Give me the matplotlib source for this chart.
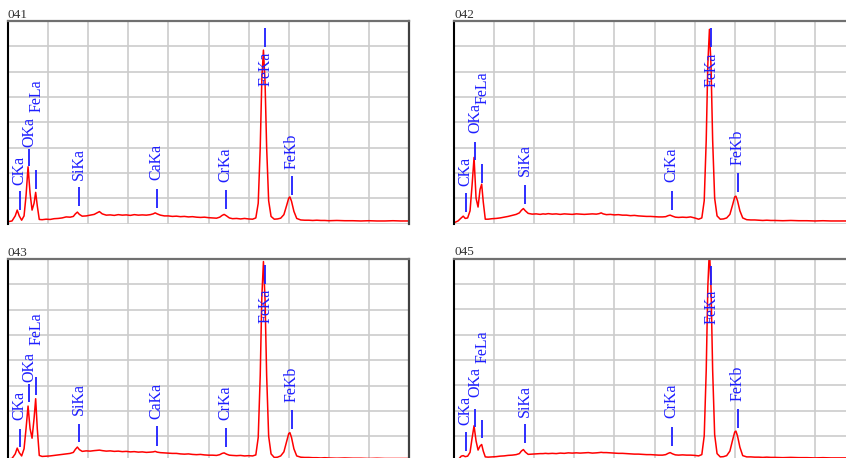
import numpy as np
import matplotlib
matplotlib.use("Agg")
from matplotlib import pyplot as plt

# EDS spectra of four spots, energy in keV, intensity in grid divisions (0-8)

panel_names = ['041', '042', '043', '045']

energy = [
    0.0, 0.1, 0.18, 0.23, 0.28, 0.34, 0.4, 0.45, 0.5, 0.55, 0.6, 0.65, 0.69, 0.73, 0.78,
    0.85, 0.95, 1.05, 1.15, 1.25, 1.35, 1.45, 1.55,
    1.63, 1.68, 1.73, 1.78, 1.85, 1.95, 2.05, 2.15, 2.22, 2.28, 2.35, 2.45,
    2.55, 2.65, 2.75, 2.85, 2.95, 3.05, 3.15, 3.25, 3.35, 3.45, 3.55,
    3.62, 3.67, 3.72, 3.8, 3.9, 4.0, 4.1, 4.2, 4.3, 4.4, 4.5, 4.6, 4.7, 4.8, 4.9, 5.0, 5.1, 5.2,
    5.28, 5.34, 5.39, 5.45, 5.52, 5.6, 5.7, 5.8, 5.9, 6.0, 6.1,
    6.18, 6.24, 6.29, 6.33, 6.37, 6.41, 6.45, 6.5, 6.56, 6.64, 6.72, 6.8, 6.88,
    6.95, 7.0, 7.03, 7.07, 7.13, 7.2, 7.3, 7.4,
    7.5, 7.6, 7.7, 7.8, 7.9, 8.0, 8.2, 8.4, 8.6, 8.8, 9.0, 9.2, 9.4, 9.6, 9.8, 10.0,
]

counts_041 = [
    0.07, 0.1, 0.3, 0.53, 0.3, 0.13, 0.3, 1.1, 2.24, 1.2, 0.53, 0.8, 1.23, 0.7, 0.16,
    0.15, 0.17, 0.16, 0.19, 0.2, 0.22, 0.26, 0.25,
    0.28, 0.38, 0.45, 0.36, 0.29, 0.3, 0.33, 0.36, 0.42, 0.47, 0.38, 0.33,
    0.34, 0.32, 0.35, 0.33, 0.34, 0.32, 0.35, 0.33, 0.34, 0.33, 0.35,
    0.38, 0.42, 0.38, 0.33, 0.3, 0.3, 0.28, 0.29, 0.27, 0.28, 0.26, 0.27, 0.25, 0.24, 0.25, 0.23, 0.22, 0.21,
    0.25, 0.32, 0.36, 0.3, 0.22, 0.19, 0.2, 0.18, 0.2, 0.18, 0.17,
    0.22, 0.8, 3.0, 5.7, 6.85, 5.6, 3.0, 0.9, 0.28, 0.17, 0.18, 0.21, 0.35,
    0.72, 1.0, 1.05, 0.88, 0.48, 0.2, 0.14, 0.13,
    0.13, 0.12, 0.13, 0.12, 0.12, 0.11, 0.12, 0.11, 0.11, 0.1, 0.11, 0.1, 0.1, 0.11, 0.1, 0.1,
]

counts_042 = [
    0.03, 0.1, 0.22, 0.29, 0.2, 0.22, 0.5, 1.5, 2.61, 1.0, 0.65, 1.35, 1.55, 0.85, 0.17,
    0.17, 0.19, 0.2, 0.22, 0.25, 0.28, 0.32, 0.36,
    0.42, 0.52, 0.59, 0.5, 0.4, 0.37, 0.38, 0.36, 0.38, 0.37, 0.39, 0.37,
    0.38, 0.36, 0.38, 0.37, 0.36, 0.38, 0.37, 0.36, 0.37, 0.38, 0.37,
    0.39, 0.42, 0.38, 0.35, 0.36, 0.34, 0.35, 0.33, 0.33, 0.31, 0.32, 0.3, 0.29, 0.28, 0.28, 0.27, 0.26, 0.26,
    0.27, 0.31, 0.33, 0.29, 0.25, 0.24, 0.25, 0.24, 0.26, 0.22, 0.17,
    0.22, 0.9, 3.3, 6.3, 7.67, 6.2, 3.3, 1.0, 0.3, 0.17, 0.18, 0.22, 0.36,
    0.75, 1.05, 1.08, 0.9, 0.5, 0.22, 0.15, 0.14,
    0.14, 0.13, 0.12, 0.13, 0.12, 0.12, 0.11, 0.12, 0.11, 0.11, 0.1, 0.11, 0.1, 0.1, 0.1, 0.1,
]

counts_043 = [
    0.1, 0.12, 0.3, 0.53, 0.35, 0.22, 0.5, 1.3, 2.19, 1.3, 0.92, 1.7, 2.48, 1.3, 0.24,
    0.2, 0.21, 0.22, 0.24, 0.26, 0.28, 0.3, 0.32,
    0.36, 0.48, 0.57, 0.47, 0.4, 0.42, 0.41, 0.43, 0.44, 0.45, 0.43, 0.41,
    0.42, 0.4, 0.41, 0.39, 0.4, 0.38, 0.39, 0.37, 0.38, 0.36, 0.37,
    0.38, 0.4, 0.37, 0.35, 0.34, 0.33, 0.32, 0.32, 0.3, 0.29, 0.3, 0.28, 0.27, 0.28, 0.26, 0.25, 0.25, 0.24,
    0.27, 0.32, 0.34, 0.29, 0.25, 0.24, 0.23, 0.24, 0.22, 0.23, 0.22,
    0.26, 0.95, 3.4, 6.5, 7.9, 6.4, 3.4, 1.0, 0.3, 0.16, 0.17, 0.22, 0.38,
    0.8, 1.1, 1.14, 0.95, 0.5, 0.22, 0.17, 0.16,
    0.16, 0.15, 0.15, 0.14, 0.15, 0.14, 0.13, 0.14, 0.13, 0.13, 0.12, 0.13, 0.12, 0.12, 0.12, 0.12,
]

counts_045 = [
    0.0, 0.05, 0.2, 0.22, 0.18, 0.2, 0.35, 0.9, 1.4, 0.8, 0.44, 0.6, 0.66, 0.4, 0.17,
    0.16, 0.17, 0.18, 0.2, 0.21, 0.23, 0.24, 0.26,
    0.3, 0.4, 0.46, 0.36, 0.27, 0.28, 0.29, 0.3, 0.3, 0.31, 0.3, 0.31,
    0.3, 0.32, 0.31, 0.33, 0.32, 0.33, 0.32, 0.33, 0.34, 0.32, 0.33,
    0.34, 0.35, 0.34, 0.34, 0.33, 0.32, 0.31, 0.31, 0.3, 0.29, 0.28, 0.28, 0.27, 0.26, 0.26, 0.25, 0.24, 0.24,
    0.26, 0.31, 0.34, 0.29, 0.25, 0.24, 0.25, 0.24, 0.24, 0.23, 0.21,
    0.26, 1.0, 3.6, 6.9, 8.4, 6.8, 3.6, 1.05, 0.3, 0.17, 0.18, 0.22, 0.4,
    0.85, 1.15, 1.19, 1.0, 0.55, 0.22, 0.17, 0.17,
    0.16, 0.16, 0.15, 0.16, 0.15, 0.15, 0.14, 0.15, 0.14, 0.14, 0.13, 0.14, 0.13, 0.13, 0.13, 0.13,
]

# element lines, marker positions (keV)
line_names = ['CKa', 'OKa', 'FeLa', 'SiKa', 'CaKa', 'CrKa', 'FeKa', 'FeKb']
line_energy = [0.29, 0.53, 0.71, 1.76, 3.71, 5.43, 6.42, 7.08]

nan = np.nan
marker_lo_041 = [0.55, 2.28, 1.38, 0.69, 0.63, 0.59, 6.98, 1.12]
marker_hi_041 = [1.29, 2.96, 2.11, 1.45, 1.38, 1.34, 7.71, 1.87]
label_y_041 = [1.52, 3.03, 4.41, 1.71, 1.71, 1.65, 5.43, 2.17]

marker_lo_042 = [0.46, 2.5, 1.61, 0.79, nan, 0.53, 6.98, 1.25]
marker_hi_042 = [1.19, 3.23, 2.37, 1.52, nan, 1.28, 7.71, 2.0]
label_y_042 = [1.48, 3.56, 4.74, 1.87, nan, 1.62, 5.4, 2.31]

marker_lo_043 = [0.57, 2.35, 2.62, 0.77, 0.63, 0.59, 7.0, 1.29]
marker_hi_043 = [1.29, 3.05, 3.34, 1.49, 1.39, 1.32, 7.77, 2.02]
label_y_043 = [1.62, 3.14, 4.6, 1.82, 1.69, 1.65, 5.46, 2.35]

marker_lo_045 = [0.4, 1.36, 0.9, 0.7, nan, 0.61, 6.97, 1.32]
marker_hi_045 = [1.14, 2.08, 1.62, 1.45, nan, 1.36, 7.73, 2.06]
label_y_045 = [1.43, 2.55, 3.87, 1.76, nan, 1.69, 5.42, 2.39]

spectra = [counts_041, counts_042, counts_043, counts_045]
markers_lo = [marker_lo_041, marker_lo_042, marker_lo_043, marker_lo_045]
markers_hi = [marker_hi_041, marker_hi_042, marker_hi_043, marker_hi_045]
labels_y = [label_y_041, label_y_042, label_y_043, label_y_045]

# panel boxes in pixels: left, top (right column is cut by the image edge)
W, H = 846, 458
boxes = [(8, 21), (454, 21), (8, 259), (454, 258.7)]
box_w, box_h = 401, 202.5

fig = plt.figure(figsize=(W / 100, H / 100), dpi=100)

for name, (left, top), counts, lo, hi, ly in zip(panel_names, boxes, spectra, markers_lo, markers_hi, labels_y):
    ax = fig.add_axes([left / W, (H - top - box_h) / H, box_w / W, box_h / H])
    ax.set_xlim(0, 10)
    ax.set_ylim(0, 8)
    ax.set_xticks(range(0, 11))
    ax.set_yticks(range(0, 9))
    ax.grid(True, color='#cccccc', lw=1.2)
    ax.set_axisbelow(True)
    ax.tick_params(length=0, labelbottom=False, labelleft=False)
    ax.spines['left'].set_color('black')
    ax.spines['left'].set_linewidth(1.5)
    ax.spines['top'].set_color('#707070')
    ax.spines['top'].set_linewidth(1.6)
    ax.spines['right'].set_color('#404040')
    ax.spines['right'].set_linewidth(1.6)
    ax.spines['bottom'].set_visible(False)

    ax.plot(energy, counts, color='#ff0000', lw=1.1)

    for lname, e, y0, y1, yt in zip(line_names, line_energy, lo, hi, ly):
        if np.isnan(y0):
            continue
        ax.vlines(e, y0, y1, color='#1e1eff', lw=1.3)
        ax.text(e, yt, lname, rotation=90, ha='center', va='bottom',
                color='#1e1eff', fontsize=11.5, family='Liberation Serif')

    ax.set_title(name, loc='left', pad=2.5, fontsize=9.5, family='Liberation Serif',
                 color='#333333')

fig.savefig('out.png', dpi=100)
